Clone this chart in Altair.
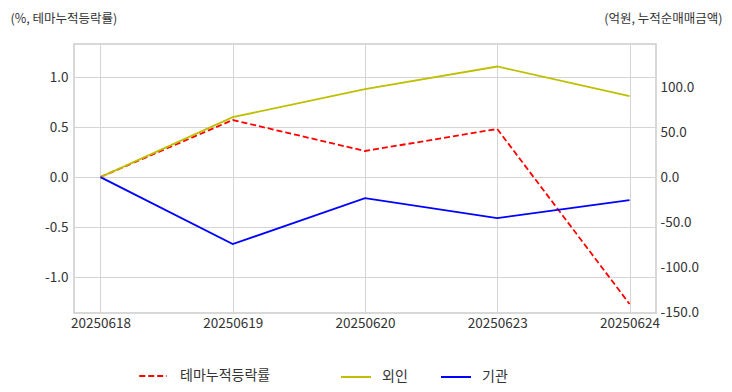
import altair as alt
import pandas as pd

dates = ["20250618", "20250619", "20250620", "20250623", "20250624"]
theme_rate = [0.0, 0.57, 0.26, 0.48, -1.27]
foreign = [0.0, 66.7, 97.8, 123.0, 90.0]
institution = [0.0, -74.4, -23.3, -45.6, -25.6]

FONT = "Noto Sans CJK KR"
TXT = "#333333"
GRID = "#d4d4d4"

left_df = pd.DataFrame({"date": dates, "value": theme_rate, "series": "테마누적등락률"})
right_df = pd.concat([
    pd.DataFrame({"date": dates, "value": foreign, "series": "외인"}),
    pd.DataFrame({"date": dates, "value": institution, "series": "기관"}),
])

x_enc = alt.X(
    "date:O", sort=dates, scale=alt.Scale(type="point", padding=0.2),
    axis=alt.Axis(title=None, labelAngle=0, labelFontSize=13.5, labelColor=TXT, labelFont=FONT,
                  ticks=False, domain=False, grid=True, gridColor=GRID, labelPadding=3),
)

neg_fmt = "datum.value < 0 ? '-' + format(-datum.value, '.1f') : format(datum.value, '.1f')"

left = alt.Chart(left_df).mark_line(strokeDash=[6, 3], strokeWidth=1.8).encode(
    x=x_enc,
    y=alt.Y("value:Q", scale=alt.Scale(domain=[-1.36, 1.33], nice=False, zero=False),
            axis=alt.Axis(values=[-1, -0.5, 0, 0.5, 1], labelExpr=neg_fmt, orient="left",
                          title="(%, 테마누적등락률)", titleAngle=0, titleAlign="left",
                          titleBaseline="middle", titleX=-64, titleY=-26,
                          titleFontWeight="normal", titleFontSize=12.5, titleColor=TXT, titleFont=FONT,
                          labelFontSize=13.5, labelColor=TXT, labelFont=FONT, ticks=False,
                          domain=False, gridColor=GRID, labelPadding=6)),
    color=alt.Color("series:N", scale=alt.Scale(domain=["테마누적등락률"], range=["#ff0000"]),
                    legend=alt.Legend(title=None, orient="none", legendX=64, legendY=317,
                                      symbolType="stroke", symbolDash=[6, 3], symbolStrokeWidth=2,
                                      symbolSize=760, labelFontSize=14, labelFont=FONT,
                                      labelColor=TXT, labelOffset=12, padding=0)),
)

right = alt.Chart(right_df).mark_line(strokeWidth=1.8).encode(
    x=x_enc,
    y=alt.Y("value:Q", scale=alt.Scale(domain=[-151, 148], nice=False, zero=False),
            axis=alt.Axis(values=[-150, -100, -50, 0, 50, 100], labelExpr=neg_fmt, orient="right",
                          title="(억원, 누적순매매금액)", titleAngle=0, titleAlign="right",
                          titleBaseline="middle", titleX=66, titleY=-26,
                          titleFontWeight="normal", titleFontSize=12.5, titleColor=TXT, titleFont=FONT,
                          labelFontSize=13.5, labelColor=TXT, labelFont=FONT, ticks=False,
                          domain=False, gridColor=GRID, labelPadding=4)),
    color=alt.Color("series:N", sort=["외인", "기관"],
                    scale=alt.Scale(domain=["외인", "기관"], range=["#bfbf00", "#0000ff"]),
                    legend=alt.Legend(title=None, orient="none", legendX=266, legendY=317,
                                      direction="horizontal", columns=2, columnPadding=29,
                                      symbolType="stroke", symbolStrokeWidth=2,
                                      symbolSize=900, labelFontSize=14, labelFont=FONT,
                                      labelColor=TXT, labelOffset=10, padding=0)),
)

chart = alt.layer(left, right).resolve_scale(
    y="independent", color="independent"
).resolve_legend(color="independent").properties(
    width=582, height=269,
    autosize=alt.AutoSizeParams(type="none"),
    padding={"left": 66, "top": 36, "right": 68, "bottom": 71},
    background="white",
).configure_view(stroke="#cccccc", strokeWidth=1.5)

chart.save("out.html", embed_options={"renderer": "svg", "actions": False})
